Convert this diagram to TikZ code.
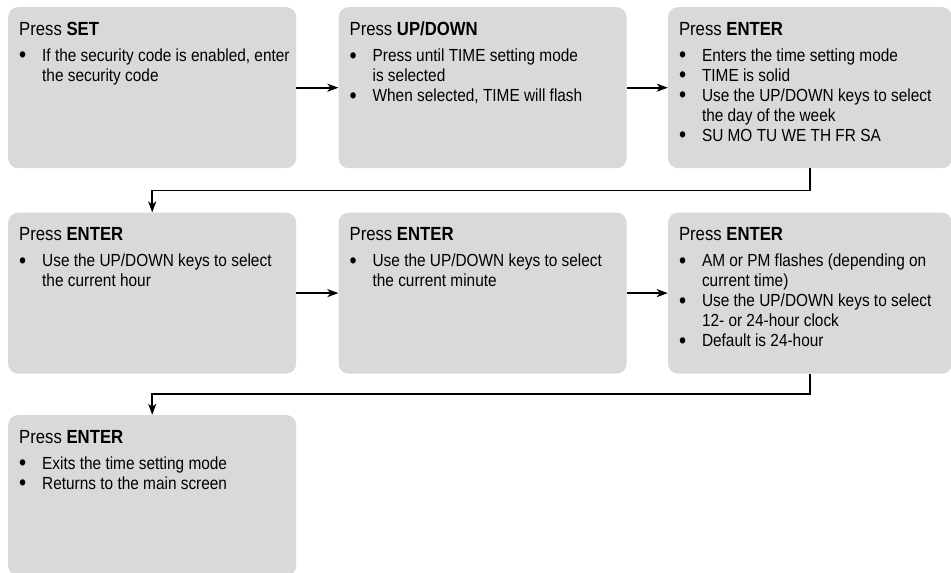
\documentclass[tikz,border=0pt]{standalone}
\usepackage{fontspec}
\setmainfont{Liberation Sans}[FakeStretch=0.88]
\usetikzlibrary{positioning,arrows.meta}
\definecolor{boxgray}{HTML}{D9D9D9}
\newcommand*{\bul}{\makebox[23pt][l]{\smash{\raisebox{-1.5pt}{\fontsize{23}{20}\selectfont\textbullet}}}}
\newcommand*{\ind}{\hspace*{23pt}}
\newcommand*{\steptitle}[1]{{\fontsize{19}{20}\selectfont Press \textbf{#1}}\\[6pt]}

\begin{document}
\begin{tikzpicture}[
    stepbox/.style={fill=boxgray, rounded corners=10pt, minimum width=288pt,
      minimum height=161pt, inner sep=0pt},
    steptext/.style={anchor=north west, align=left, inner sep=0pt,
      font=\fontsize{17.5}{20}\selectfont},
    flow/.style={-{Stealth[length=11pt,width=8pt,inset=3pt]}, line width=1.6pt}
  ]
    \useasboundingbox (0,0) rectangle (951pt,-573pt);

    % the boxes
    \node[stepbox, anchor=north west] (set) at (8pt,-7pt) {};
    \node[stepbox, right=42pt of set] (updown) {};
    \node[stepbox, right=41pt of updown, minimum width=284pt] (day) {};
    \node[stepbox, below=44pt of set] (hour) {};
    \node[stepbox, right=42pt of hour] (minute) {};
    \node[stepbox, right=41pt of minute, minimum width=284pt] (clock) {};
    \node[stepbox, below=41pt of hour] (exit) {};

    % the texts
    \node[steptext] (tset) at ([xshift=11pt,yshift=-15pt]set.north west)
        {\steptitle{SET}
         \bul If the security code is enabled, enter\\
         \ind the security code};
    \node[steptext] (tupdown) at ([xshift=11pt,yshift=-15pt]updown.north west)
        {\steptitle{UP/DOWN}
         \bul Press until TIME setting mode\\
         \ind is selected\\
         \bul When selected, TIME will flash};
    \node[steptext] (tday) at ([xshift=11pt,yshift=-15pt]day.north west)
        {\steptitle{ENTER}
         \bul Enters the time setting mode\\
         \bul TIME is solid\\
         \bul Use the UP/DOWN keys to select\\
         \ind the day of the week\\
         \bul SU MO TU WE TH FR SA};
    \node[steptext] (thour) at ([xshift=11pt,yshift=-15pt]hour.north west)
        {\steptitle{ENTER}
         \bul Use the UP/DOWN keys to select\\
         \ind the current hour};
    \node[steptext] (tminute) at ([xshift=11pt,yshift=-15pt]minute.north west)
        {\steptitle{ENTER}
         \bul Use the UP/DOWN keys to select\\
         \ind the current minute};
    \node[steptext] (tclock) at ([xshift=11pt,yshift=-15pt]clock.north west)
        {\steptitle{ENTER}
         \bul AM or PM flashes (depending on\\
         \ind current time)\\
         \bul Use the UP/DOWN keys to select\\
         \ind 12- or 24-hour clock\\
         \bul Default is 24-hour};
    \node[steptext] (texit) at ([xshift=11pt,yshift=-15pt]exit.north west)
        {\steptitle{ENTER}
         \bul Exits the time setting mode\\
         \bul Returns to the main screen};

    % the arrows
    \draw[flow] (set) -- (updown);
    \draw[flow] (updown) -- (day);
    \draw[flow] (day.south) -- ++(0,-22pt) -| (hour.north);
    \draw[flow] (hour) -- (minute);
    \draw[flow] (minute) -- (clock);
    \draw[flow] (clock.south) -- ++(0,-20pt) -| (exit.north);
\end{tikzpicture}
\end{document}
